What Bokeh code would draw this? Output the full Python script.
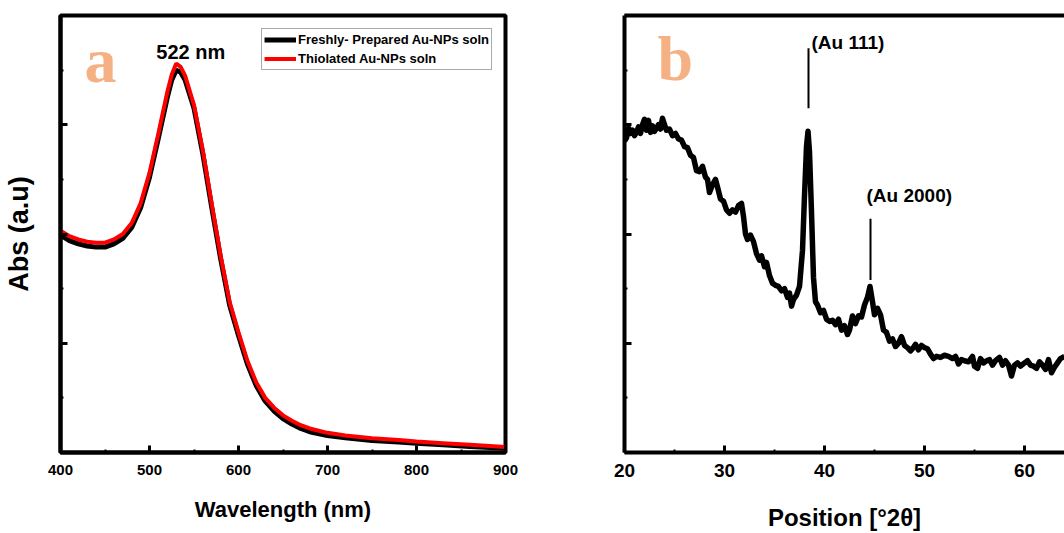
from bokeh.plotting import figure
from bokeh.models import FixedTicker, LinearAxis, Range1d, Label, Legend, LegendItem, CustomJSTickFormatter
from bokeh.layouts import row
from bokeh.embed import file_html
from bokeh.resources import INLINE

# ---------------- data: panel a (UV-Vis) ----------------
wavelength = [400, 410, 420, 430, 440, 450, 460, 470, 480, 490, 500, 510, 520, 525, 530, 535,
              540, 550, 560, 570, 580, 590, 600, 610, 620, 630, 640, 650, 660, 670, 680, 700,
              720, 750, 780, 800, 830, 860, 900]
abs_fresh = [1.99, 1.94, 1.91, 1.89, 1.88, 1.88, 1.91, 1.96, 2.06, 2.24, 2.52, 2.88, 3.25, 3.41,
             3.50, 3.48, 3.41, 3.15, 2.73, 2.24, 1.77, 1.35, 1.07, 0.81, 0.61, 0.47, 0.38, 0.31,
             0.26, 0.22, 0.19, 0.155, 0.135, 0.11, 0.095, 0.085, 0.07, 0.055, 0.04]
abs_thiol = [2.03, 1.98, 1.95, 1.93, 1.92, 1.92, 1.95, 2.00, 2.10, 2.28, 2.56, 2.92, 3.30, 3.46,
             3.56, 3.53, 3.45, 3.18, 2.76, 2.27, 1.80, 1.38, 1.10, 0.84, 0.64, 0.50, 0.41, 0.34,
             0.29, 0.25, 0.22, 0.18, 0.155, 0.13, 0.115, 0.10, 0.085, 0.07, 0.05]
a_xticks = [400, 500, 600, 700, 800, 900]
a_xminor = [450, 550, 650, 750, 850]

# ---------------- data: panel b (XRD) ----------------
two_theta = [20.0, 20.2, 20.4, 20.6, 20.8, 21.0, 21.2, 21.4, 21.6, 21.8, 22.0, 22.2, 22.4, 22.6,
             22.8, 23.0, 23.2, 23.4, 23.6, 23.8, 24.0, 24.2, 24.5, 24.8, 25.1, 25.4, 25.7, 26.0,
             26.3, 26.6, 26.9, 27.2, 27.5, 27.8, 28.1, 28.3, 28.5, 28.8, 29.1, 29.3, 29.6, 29.9,
             30.2, 30.5, 30.8, 31.1, 31.4, 31.7, 31.9, 32.1, 32.3, 32.6, 32.9, 33.2, 33.5, 33.7,
             34.0, 34.2, 34.5, 34.8, 35.1, 35.4, 35.7, 36.0, 36.3, 36.5, 36.7, 36.9, 37.2, 37.5,
             37.8, 38.0, 38.2, 38.35, 38.5, 38.7, 38.9, 39.1, 39.3, 39.6, 39.9, 40.2, 40.5, 40.8,
             41.1, 41.4, 41.7, 42.0, 42.3, 42.5, 42.8, 43.1, 43.4, 43.7, 44.0, 44.3, 44.55, 44.8,
             45.0, 45.3, 45.6, 45.9, 46.2, 46.5, 46.8, 47.1, 47.4, 47.7, 48.0, 48.3, 48.6, 48.8,
             49.1, 49.4, 49.7, 50.0, 50.3, 50.6, 50.9, 51.2, 51.6, 52.0, 52.4, 52.8, 53.1, 53.4,
             53.7, 54.0, 54.4, 54.8, 55.0, 55.3, 55.6, 55.9, 56.2, 56.5, 56.8, 57.1, 57.5, 57.8,
             58.1, 58.4, 58.7, 59.0, 59.3, 59.6, 60.0, 60.3, 60.6, 60.9, 61.2, 61.5, 61.8, 62.1,
             62.4, 62.7, 63.0, 63.3, 63.6, 64.0]
intensity = [2.85, 2.88, 2.97, 2.92, 2.95, 2.90, 2.93, 2.98, 2.92, 3.00, 3.05, 2.95, 3.04, 2.93,
             2.99, 2.94, 2.97, 3.00, 2.96, 3.06, 3.00, 2.95, 2.96, 2.90, 2.92, 2.87, 2.86, 2.80,
             2.79, 2.72, 2.70, 2.58, 2.57, 2.62, 2.52, 2.50, 2.38, 2.45, 2.50, 2.43, 2.32, 2.30,
             2.22, 2.19, 2.22, 2.20, 2.26, 2.28, 2.16, 2.00, 1.95, 1.99, 1.93, 1.82, 1.76, 1.80,
             1.70, 1.74, 1.62, 1.55, 1.53, 1.52, 1.48, 1.50, 1.42, 1.46, 1.34, 1.40, 1.44, 1.52,
             1.85, 2.35, 2.80, 2.94, 2.75, 2.20, 1.60, 1.38, 1.35, 1.28, 1.30, 1.22, 1.20, 1.21,
             1.17, 1.22, 1.12, 1.16, 1.08, 1.12, 1.25, 1.18, 1.25, 1.24, 1.35, 1.42, 1.52, 1.38,
             1.26, 1.32, 1.26, 1.12, 1.10, 1.02, 1.04, 0.97, 1.00, 1.06, 0.98, 0.96, 0.93, 0.95,
             0.99, 0.94, 0.98, 0.96, 0.95, 0.90, 0.86, 0.88, 0.87, 0.89, 0.88, 0.86, 0.88, 0.81,
             0.85, 0.84, 0.83, 0.88, 0.79, 0.77, 0.86, 0.82, 0.84, 0.85, 0.80, 0.84, 0.87, 0.80,
             0.84, 0.80, 0.70, 0.80, 0.82, 0.79, 0.82, 0.84, 0.80, 0.79, 0.77, 0.83, 0.80, 0.76,
             0.85, 0.73, 0.78, 0.82, 0.86, 0.88]
b_xticks = [20, 30, 40, 50, 60]
b_xminor = [25, 35, 45, 55]
peak_pos = [38.4, 44.6]
peak_line_top = [3.70, 2.14]
peak_line_bottom = [3.15, 1.58]
peak_labels = ["(Au 111)", "(Au 2000)"]
peak_label_x = [38.7, 44.2]
peak_label_y = [3.75, 2.35]

y_major = [0, 1, 2, 3, 4]
y_minor = [0.5, 1.5, 2.5, 3.5]

SANS = "'Liberation Sans', Arial, sans-serif"
SERIF = "'Liberation Serif', 'Times New Roman', serif"
PEACH = "#F5B183"


def style_axis(ax, ticks, minor, label_size, show_labels=True):
    ax.ticker = FixedTicker(ticks=ticks, minor_ticks=minor)
    ax.axis_line_width = 4
    ax.axis_line_color = "black"
    ax.major_tick_in = 7
    ax.major_tick_out = 0
    ax.minor_tick_in = 3
    ax.minor_tick_out = 0
    ax.major_tick_line_width = 3
    ax.minor_tick_line_width = 2
    ax.major_tick_line_color = "black"
    ax.minor_tick_line_color = "black"
    if show_labels:
        ax.major_label_text_font = SANS
        ax.major_label_text_font_style = "bold"
        ax.major_label_text_font_size = label_size
        ax.major_label_text_color = "black"
    else:
        ax.formatter = CustomJSTickFormatter(code="return ''")
        ax.major_label_standoff = 0
    ax.axis_label_text_color = "black"
    ax.axis_label_text_font = SANS
    ax.axis_label_text_font_style = "bold"


# ---------------- panel a ----------------
pa = figure(width=520, height=533, min_border_left=59, min_border_right=15,
            min_border_top=15, min_border_bottom=78, x_range=Range1d(400, 900),
            y_range=Range1d(0, 4), output_backend="svg", toolbar_location=None,
            background_fill_color="white", border_fill_color="white")
pa.grid.visible = False
pa.outline_line_color = "black"
pa.outline_line_width = 4
style_axis(pa.xaxis[0], a_xticks, a_xminor, "15px")
pa.xaxis[0].major_label_standoff = 12
style_axis(pa.yaxis[0], y_major, y_minor, "0px", show_labels=False)

pa.xaxis[0].axis_label = "Wavelength (nm)"
pa.xaxis[0].axis_label_text_font_size = "22px"
pa.xaxis[0].axis_label_standoff = 19

pa.yaxis[0].axis_label = "Abs (a.u)"
pa.yaxis[0].axis_label_text_font_size = "27px"
pa.yaxis[0].axis_label_standoff = 27

r_black = pa.line(wavelength, abs_fresh, line_color="black", line_width=5)
r_red = pa.line(wavelength, abs_thiol, line_color="#FF0000", line_width=4)

legend = Legend(items=[LegendItem(label="Freshly- Prepared Au-NPs soln", renderers=[r_black]),
                       LegendItem(label="Thiolated Au-NPs soln", renderers=[r_red])],
                location="top_right", margin=13, padding=2, spacing=2,
                glyph_width=32, glyph_height=17, label_height=17, label_standoff=2,
                label_text_font=SANS, label_text_font_style="bold",
                label_text_font_size="13px", label_text_color="black",
                border_line_color="#555555", border_line_width=1.5,
                background_fill_color="white", background_fill_alpha=1)
pa.add_layout(legend)

pa.add_layout(Label(x=507.6, y=3.67, text="522 nm", text_font=SANS, text_font_style="bold",
                    text_font_size="20px", text_baseline="middle", text_color="black"))
pa.add_layout(Label(x=427, y=3.59, text="a", text_font=SERIF, text_font_style="bold",
                    text_font_size="64px", text_baseline="alphabetic", text_color=PEACH))

# ---------------- panel b ----------------
pb = figure(width=544, height=533, min_border_left=104, min_border_right=0,
            min_border_top=15, min_border_bottom=79, x_range=Range1d(20, 64),
            y_range=Range1d(0, 4), output_backend="svg", toolbar_location=None,
            background_fill_color="white", border_fill_color="white")
pb.grid.visible = False
pb.outline_line_color = None
style_axis(pb.xaxis[0], b_xticks, b_xminor, "19px")
pb.xaxis[0].major_label_standoff = 11
style_axis(pb.yaxis[0], y_major, y_minor, "0px", show_labels=False)
pb.xaxis[0].axis_label = "Position [°2θ]"
pb.xaxis[0].axis_label_text_font_size = "24px"
pb.xaxis[0].axis_label_standoff = 24

top_axis = LinearAxis(ticker=FixedTicker(ticks=[]), axis_line_width=4, axis_line_color="black",
                      major_tick_in=0, major_tick_out=0, minor_tick_in=0, minor_tick_out=0,
                      formatter=CustomJSTickFormatter(code="return ''"), major_label_standoff=0)
pb.add_layout(top_axis, "above")

pb.line(two_theta, intensity, line_color="black", line_width=5.5, line_join="round")
pb.segment(x0=peak_pos, y0=peak_line_bottom, x1=peak_pos, y1=peak_line_top,
           line_color="black", line_width=2)
for lx, ly, lt in zip(peak_label_x, peak_label_y, peak_labels):
    pb.add_layout(Label(x=lx, y=ly, text=lt, text_font=SANS, text_font_style="bold",
                        text_font_size="19px", text_baseline="middle", text_color="black"))
pb.add_layout(Label(x=23.3, y=3.61, text="b", text_font=SERIF, text_font_style="bold",
                    text_font_size="64px", text_baseline="alphabetic", text_color=PEACH))

layout = row(pa, pb)
open("out.html", "w").write(file_html(layout, INLINE))
